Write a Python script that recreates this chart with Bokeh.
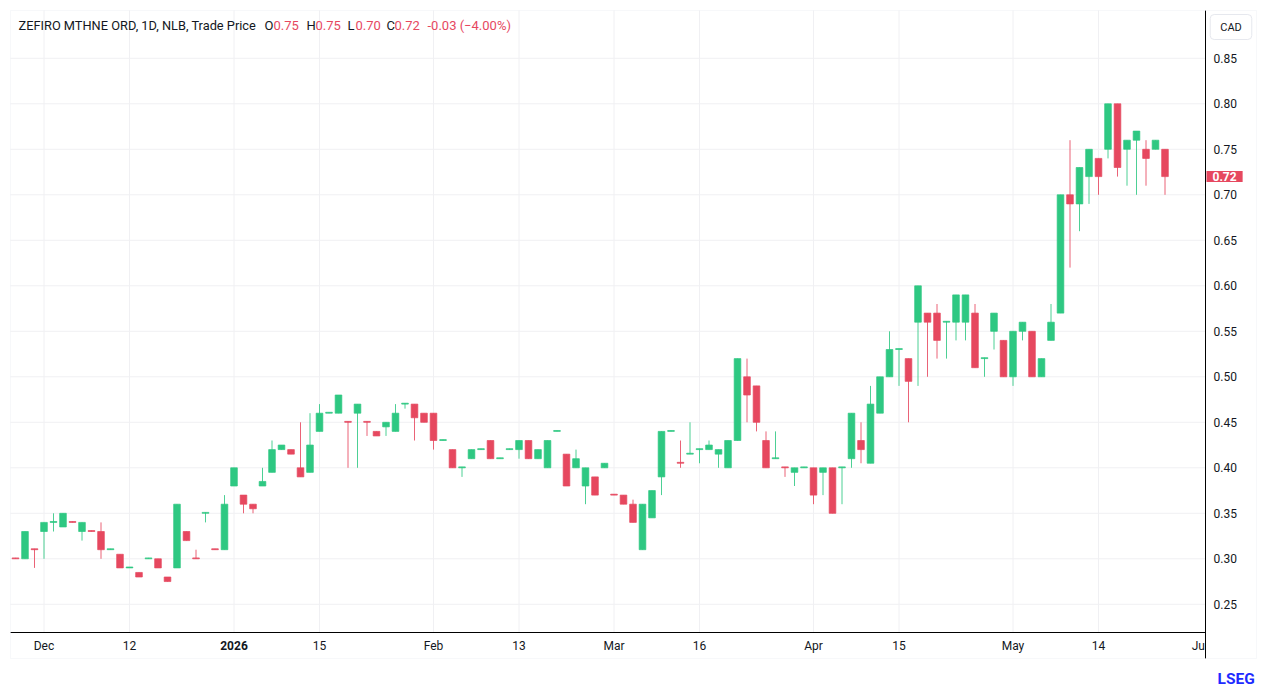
from bokeh.plotting import figure
from bokeh.models import (Range1d, FixedTicker, Label, ColumnDataSource, CustomJSTickFormatter,
                          LinearAxis, BoxAnnotation)
from bokeh.embed import file_html
from bokeh.resources import INLINE

# ---- data (daily OHLC, one bar per trading day) ----
opens = [0.301, 0.30, 0.311, 0.33, 0.34, 0.335, 0.341, 0.33, 0.331, 0.33,
         0.31, 0.305, 0.29, 0.285, 0.30, 0.30, 0.28, 0.29, 0.33, 0.301,
         0.35, 0.311, 0.31, 0.38, 0.37, 0.36, 0.38, 0.395, 0.42, 0.42,
         0.40, 0.395, 0.44, 0.46, 0.46, 0.451, 0.46, 0.451, 0.44, 0.445,
         0.44, 0.47, 0.47, 0.46, 0.46, 0.43, 0.42, 0.40, 0.41, 0.42,
         0.43, 0.41, 0.42, 0.42, 0.43, 0.41, 0.40, 0.44, 0.415, 0.40,
         0.38, 0.39, 0.40, 0.371, 0.37, 0.36, 0.31, 0.345, 0.39, 0.44,
         0.406, 0.415, 0.42, 0.42, 0.415, 0.40, 0.43, 0.50, 0.49, 0.43,
         0.41, 0.401, 0.395, 0.40, 0.40, 0.395, 0.40, 0.40, 0.41, 0.43,
         0.405, 0.46, 0.50, 0.53, 0.52, 0.56, 0.57, 0.57, 0.56, 0.56,
         0.56, 0.57, 0.52, 0.55, 0.54, 0.50, 0.55, 0.55, 0.50, 0.54,
         0.57, 0.70, 0.69, 0.72, 0.74, 0.75, 0.80, 0.75, 0.76, 0.75,
         0.75, 0.75]
highs = [0.301, 0.33, 0.311, 0.34, 0.35, 0.35, 0.341, 0.34, 0.331, 0.34,
         0.311, 0.305, 0.291, 0.285, 0.301, 0.30, 0.28, 0.36, 0.33, 0.31,
         0.351, 0.311, 0.37, 0.40, 0.37, 0.36, 0.40, 0.43, 0.425, 0.42,
         0.45, 0.46, 0.47, 0.461, 0.48, 0.451, 0.47, 0.451, 0.44, 0.45,
         0.47, 0.471, 0.47, 0.46, 0.46, 0.431, 0.42, 0.401, 0.42, 0.421,
         0.43, 0.411, 0.421, 0.43, 0.43, 0.42, 0.43, 0.441, 0.415, 0.42,
         0.40, 0.39, 0.405, 0.371, 0.37, 0.365, 0.36, 0.375, 0.44, 0.441,
         0.43, 0.45, 0.421, 0.43, 0.42, 0.43, 0.52, 0.52, 0.49, 0.44,
         0.44, 0.401, 0.40, 0.401, 0.40, 0.40, 0.40, 0.401, 0.46, 0.45,
         0.49, 0.50, 0.55, 0.531, 0.52, 0.60, 0.57, 0.58, 0.561, 0.59,
         0.59, 0.58, 0.521, 0.57, 0.54, 0.55, 0.56, 0.55, 0.52, 0.58,
         0.70, 0.76, 0.73, 0.75, 0.74, 0.80, 0.80, 0.76, 0.77, 0.76,
         0.76, 0.75]
lows = [0.30, 0.30, 0.29, 0.30, 0.33, 0.335, 0.34, 0.32, 0.33, 0.30,
        0.31, 0.29, 0.29, 0.28, 0.30, 0.29, 0.275, 0.29, 0.32, 0.30,
        0.34, 0.31, 0.31, 0.38, 0.35, 0.35, 0.38, 0.395, 0.42, 0.415,
        0.39, 0.395, 0.44, 0.46, 0.46, 0.40, 0.40, 0.435, 0.435, 0.435,
        0.44, 0.465, 0.43, 0.45, 0.42, 0.43, 0.40, 0.39, 0.41, 0.42,
        0.41, 0.41, 0.42, 0.41, 0.41, 0.41, 0.40, 0.44, 0.38, 0.40,
        0.36, 0.37, 0.40, 0.37, 0.36, 0.34, 0.31, 0.345, 0.37, 0.44,
        0.40, 0.415, 0.405, 0.42, 0.40, 0.40, 0.43, 0.45, 0.44, 0.40,
        0.41, 0.39, 0.38, 0.40, 0.36, 0.37, 0.35, 0.36, 0.40, 0.405,
        0.405, 0.46, 0.50, 0.49, 0.45, 0.49, 0.50, 0.52, 0.52, 0.54,
        0.54, 0.51, 0.50, 0.53, 0.50, 0.49, 0.54, 0.50, 0.50, 0.54,
        0.57, 0.62, 0.66, 0.69, 0.70, 0.74, 0.72, 0.71, 0.70, 0.71,
        0.75, 0.70]
closes = [0.30, 0.33, 0.31, 0.34, 0.341, 0.35, 0.34, 0.34, 0.33, 0.31,
          0.311, 0.29, 0.291, 0.28, 0.301, 0.29, 0.275, 0.36, 0.32, 0.30,
          0.351, 0.31, 0.36, 0.40, 0.36, 0.355, 0.385, 0.42, 0.425, 0.415,
          0.39, 0.425, 0.46, 0.461, 0.48, 0.45, 0.47, 0.45, 0.435, 0.45,
          0.46, 0.471, 0.455, 0.45, 0.43, 0.431, 0.40, 0.401, 0.42, 0.421,
          0.41, 0.411, 0.421, 0.43, 0.41, 0.42, 0.43, 0.441, 0.38, 0.41,
          0.40, 0.37, 0.405, 0.37, 0.36, 0.34, 0.36, 0.375, 0.44, 0.441,
          0.405, 0.416, 0.421, 0.425, 0.42, 0.43, 0.52, 0.48, 0.45, 0.40,
          0.411, 0.40, 0.40, 0.401, 0.37, 0.40, 0.35, 0.401, 0.46, 0.42,
          0.47, 0.50, 0.53, 0.531, 0.495, 0.60, 0.56, 0.54, 0.561, 0.59,
          0.59, 0.51, 0.521, 0.57, 0.50, 0.55, 0.56, 0.50, 0.52, 0.56,
          0.70, 0.69, 0.73, 0.75, 0.72, 0.80, 0.73, 0.76, 0.77, 0.74,
          0.76, 0.72]

date_tick_index = [3, 12, 23, 32, 44, 53, 63, 72, 84, 93, 105, 114]
date_tick_labels = ["Dec", "12", "2026", "15", "Feb", "13", "Mar", "16", "Apr", "15", "May", "14"]
edge_tick_index = 124.5
edge_tick_label = "Ju"
price_ticks = [0.25, 0.30, 0.35, 0.40, 0.45, 0.50, 0.55, 0.60, 0.65, 0.70, 0.75, 0.80, 0.85]
header_name = "ZEFIRO MTHNE ORD, 1D, NLB, Trade Price"
change_text = "-0.03 (\u22124.00%)"
currency = "CAD"
brand = "LSEG"

UP = "#2ec882"
DOWN = "#e6485f"
TXT = "#131722"
GRID = "#f0f0f3"
BORDER = "#e6e8ee"
FONT = "Roboto"

# ---- canvas geometry (pixels) ----
W, H = 1264, 687
PL, PT, PR, PB = 10, 10, 1205, 632      # price pane
OUT_R, OUT_B = 1256, 658                # outer panel border
BAR_PX, BAR0_PX = 9.5, 15.0             # bar spacing / first bar centre
PX_PER_UNIT, P085_PX = 910.0, 57.8      # price scale


def ix(px):
    return (px - BAR0_PX) / BAR_PX


def pr(py):
    return 0.85 - (py - P085_PX) / PX_PER_UNIT


n = len(closes)
idx = list(range(n))
colors = [UP if c >= o else DOWN for o, c in zip(opens, closes)]
src = ColumnDataSource(dict(
    x=idx, o=opens, h=highs, l=lows, c=closes,
    top=[max(o, c) for o, c in zip(opens, closes)],
    bot=[min(o, c) for o, c in zip(opens, closes)],
    color=colors,
))

p = figure(width=W, height=H, output_backend="svg", toolbar_location=None,
           x_range=Range1d(ix(0), ix(W)), y_range=Range1d(pr(H), pr(0)),
           x_axis_location=None, y_axis_location=None, min_border=0)
p.min_border_left = p.min_border_right = p.min_border_top = p.min_border_bottom = 0
p.background_fill_color = "white"
p.border_fill_color = "white"
p.outline_line_color = None
p.grid.visible = False

# grid lines, bounded to the price pane
p.segment(x0=date_tick_index, y0=[pr(PB)] * len(date_tick_index),
          x1=date_tick_index, y1=[pr(PT)] * len(date_tick_index),
          line_color=GRID, line_width=1)
p.segment(x0=[ix(PL)] * len(price_ticks), y0=price_ticks,
          x1=[ix(PR)] * len(price_ticks), y1=price_ticks,
          line_color=GRID, line_width=1)

# outer panel border
p.add_layout(BoxAnnotation(left=ix(PL), right=ix(OUT_R), top=pr(PT), bottom=pr(OUT_B),
                           fill_alpha=0, line_color=BORDER, line_width=1))

# candles
p.segment(x0="x", y0="h", x1="x", y1="l", color="color", line_width=1, line_alpha=0.85, source=src)
p.vbar(x="x", width=0.7, top="top", bottom="bot", fill_color="color",
       line_color="color", line_width=1, line_alpha=0.7, source=src)

# axes
overrides = {t: lab for t, lab in zip(date_tick_index, date_tick_labels)}
overrides[date_tick_index[2]] = ""
overrides[edge_tick_index] = edge_tick_label
xaxis = LinearAxis(fixed_location=pr(PB), bounds=(ix(PL), ix(PR)),
                   ticker=FixedTicker(ticks=date_tick_index + [edge_tick_index]),
                   major_label_overrides=overrides)
yaxis = LinearAxis(fixed_location=ix(PR), bounds=(pr(OUT_B), pr(PT)),
                   ticker=FixedTicker(ticks=price_ticks),
                   formatter=CustomJSTickFormatter(code="return tick.toFixed(2);"))
for ax in (xaxis, yaxis):
    ax.major_tick_line_color = None
    ax.minor_tick_line_color = None
    ax.major_tick_out = 0
    ax.major_tick_in = 0
    ax.minor_tick_out = 0
    ax.minor_tick_in = 0
    ax.axis_line_color = "#000000"
    ax.axis_line_width = 1
    ax.major_label_text_font = FONT
    ax.major_label_text_font_size = "12px"
    ax.major_label_text_color = TXT
xaxis.major_label_standoff = 6
yaxis.major_label_standoff = 8
p.add_layout(xaxis, "below")
p.add_layout(yaxis, "right")

# bold year label
p.add_layout(Label(x=date_tick_index[2], y=H - 645, x_units="data", y_units="screen",
                   text=date_tick_labels[2], text_font=FONT, text_font_size="12px",
                   text_font_style="bold", text_color=TXT, text_align="center",
                   text_baseline="middle"))

# header legend
hdr = [(18, header_name, TXT, "12.8px"),
       (264, "O", TXT, "13px"), (273, "%.2f" % opens[-1], DOWN, "13px"),
       (306, "H", TXT, "13px"), (315, "%.2f" % highs[-1], DOWN, "13px"),
       (347, "L", TXT, "13px"), (355, "%.2f" % lows[-1], DOWN, "13px"),
       (386, "C", TXT, "13px"), (394, "%.2f" % closes[-1], DOWN, "13px"),
       (427, change_text, DOWN, "13px")]
for hx, ht, hc, fs in hdr:
    p.add_layout(Label(x=hx, y=H - 25, x_units="screen", y_units="screen", text=ht,
                       text_font=FONT, text_font_size=fs, text_color=hc,
                       text_baseline="middle"))

# last price tag
p.add_layout(Label(x=PR + 1, y=closes[-1], x_units="screen", y_units="data",
                   text="%.2f" % closes[-1], text_font=FONT, text_font_size="12px",
                   text_font_style="bold", text_color="white", text_baseline="middle",
                   background_fill_color=DOWN, padding=dict(left=6, right=6, top=1, bottom=1)))

# currency box
p.add_layout(Label(x=1230.5, y=H - 26.5, x_units="screen", y_units="screen",
                   text=currency, text_font=FONT, text_font_size="11px", text_color=TXT,
                   text_align="center", text_baseline="middle", border_line_color=BORDER,
                   background_fill_color="white",
                   padding=dict(left=10, right=10, top=6, bottom=6), border_radius=4))

# brand
p.add_layout(Label(x=1217, y=H - 678, x_units="screen", y_units="screen", text=brand,
                   text_font=FONT, text_font_size="15.5px", text_font_style="bold",
                   text_color="#1e2bff", text_baseline="middle"))

open("out.html", "w").write(file_html(p, INLINE))
